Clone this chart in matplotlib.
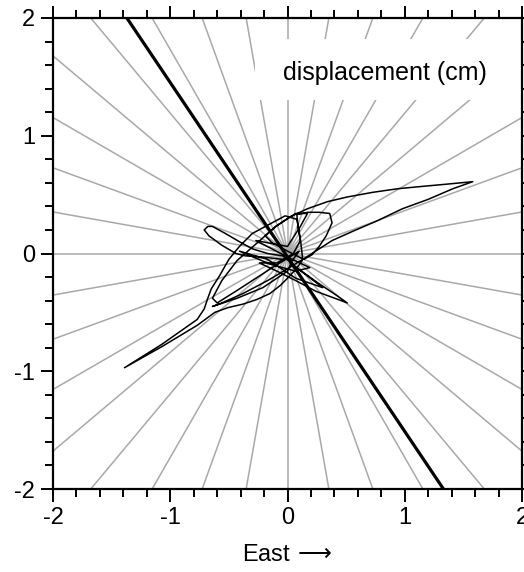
import numpy as np
import matplotlib
matplotlib.use("Agg")
import matplotlib.pyplot as plt
from matplotlib.patches import Rectangle
from matplotlib.ticker import MultipleLocator

plt.rcParams['font.family'] = ['Liberation Sans', 'DejaVu Sans']
plt.rcParams['mathtext.fontset'] = 'dejavusans'

# radial reference directions (degrees)
ray_angles = list(range(0, 180, 10))

# principal direction line (end points)
main_x = [-1.37, 1.33]
main_y = [2.0, -2.0]

# particle motion trajectory (East, North) in cm
traj_x = [
    # small loop to the west
    -0.04, -0.21, -0.36, -0.44, -0.56, -0.67, -0.71, -0.68, -0.64, -0.53, -0.41, -0.30, -0.17, -0.04,
    # spike to the south-east
    0.09, 0.26, 0.41, 0.51, 0.43, 0.24, 0.07, -0.09, -0.24,
    # small loop east of centre
    -0.09, 0.05, 0.11, 0.09, 0.08, 0.17, 0.27, 0.36, 0.38, 0.33, 0.27, 0.21, 0.14,
    # long loop to the north-east
    0.00, -0.13, -0.19, -0.10, 0.02, 0.17, 0.34, 0.51, 0.73, 0.94, 1.15, 1.37, 1.58,
    1.41, 1.20, 0.98, 0.77, 0.56, 0.38, 0.24, 0.13,
    # elongated loop and tail to the south-west
    0.11, 0.08, -0.02, -0.17, -0.30, -0.41, -0.50, -0.58, -0.65, -0.68, -0.71, -0.77,
    -1.07, -1.39, -1.07, -0.77, -0.62, -0.51, -0.38, -0.26, -0.15, -0.06, 0.02, 0.09, 0.13,
    # inner return path
    0.00, -0.17, -0.38, -0.56, -0.64, -0.43, -0.21, 0.00, 0.04,
    # inner loop
    0.10, -0.13, -0.44, -0.60, -0.64, -0.56, -0.43, -0.27, -0.10, 0.07, 0.17, 0.11,
    # criss-cross near the centre
    0.00, -0.27, 0.02, 0.19, 0.07, -0.15, -0.41, -0.17, 0.07, 0.30, 0.17, 0.02,
]
traj_y = [
    -0.05, -0.03, -0.02, 0.00, 0.07, 0.15, 0.20, 0.23, 0.23, 0.17, 0.10, 0.04, 0.00, -0.02,
    -0.13, -0.25, -0.35, -0.42, -0.39, -0.32, -0.23, -0.15, -0.08,
    -0.08, 0.00, 0.11, 0.23, 0.33, 0.35, 0.35, 0.34, 0.26, 0.15, 0.06, -0.01, -0.05,
    0.02, 0.09, 0.15, 0.23, 0.31, 0.38, 0.44, 0.48, 0.52, 0.55, 0.57, 0.59, 0.61,
    0.55, 0.46, 0.38, 0.28, 0.19, 0.11, 0.02, -0.05,
    0.12, 0.29, 0.32, 0.24, 0.17, 0.06, -0.05, -0.19, -0.30, -0.38, -0.47, -0.56,
    -0.77, -0.97, -0.79, -0.61, -0.50, -0.46, -0.43, -0.39, -0.34, -0.27, -0.19, -0.11, -0.05,
    -0.13, -0.23, -0.34, -0.42, -0.45, -0.38, -0.29, -0.15, -0.06,
    0.02, -0.12, -0.32, -0.42, -0.38, -0.23, -0.06, 0.08, 0.23, 0.34, 0.34, 0.23,
    0.06, 0.11, -0.04, -0.12, -0.15, -0.09, 0.02, -0.05, -0.21, -0.29, -0.19, -0.08,
]

x_ticks = [-2, -1, 0, 1, 2]
y_ticks = [-2, -1, 0, 1, 2]
x_label = "East$\\,\\longrightarrow$"
box_text = "displacement (cm)"

fig = plt.figure(figsize=(5.24, 5.72), dpi=100)
ax = fig.add_axes([53/524, 83/572, 469/524, 471/572])
ax.set_xlim(-2, 2)
ax.set_ylim(-2, 2)

R = 3.0
for a in ray_angles:
    t = np.deg2rad(a)
    ax.plot([-R*np.cos(t), R*np.cos(t)], [-R*np.sin(t), R*np.sin(t)],
            color='#a8a8a8', lw=1.1, zorder=1, solid_capstyle='butt')

ax.add_patch(Rectangle((-0.28, 1.30), 2.4, 0.52, facecolor='white',
                       edgecolor='none', zorder=2))
ax.text(0.83, 1.53, box_text, ha='center', va='center', fontsize=18, zorder=3)

ax.plot(main_x, main_y, color='black', lw=2.3, zorder=4, solid_capstyle='butt')
ax.plot(traj_x, traj_y, color='black', lw=1.1, zorder=5, solid_joinstyle='round')

ax.set_xticks(x_ticks)
ax.set_yticks(y_ticks)
ax.set_xticklabels([str(v) for v in x_ticks])
ax.set_yticklabels([str(v) for v in y_ticks])
ax.xaxis.set_minor_locator(MultipleLocator(0.2))
ax.yaxis.set_minor_locator(MultipleLocator(0.2))
ax.tick_params(which='both', direction='out', top=True, right=True,
               labeltop=False, labelright=False, width=1.4, labelsize=17, color='black')
ax.tick_params(which='major', length=9, pad=4)
ax.tick_params(which='minor', length=6)
for s in ax.spines.values():
    s.set_linewidth(1.6)
ax.set_xlabel(x_label, fontsize=17, labelpad=11)

fig.savefig("out.png", dpi=100)
